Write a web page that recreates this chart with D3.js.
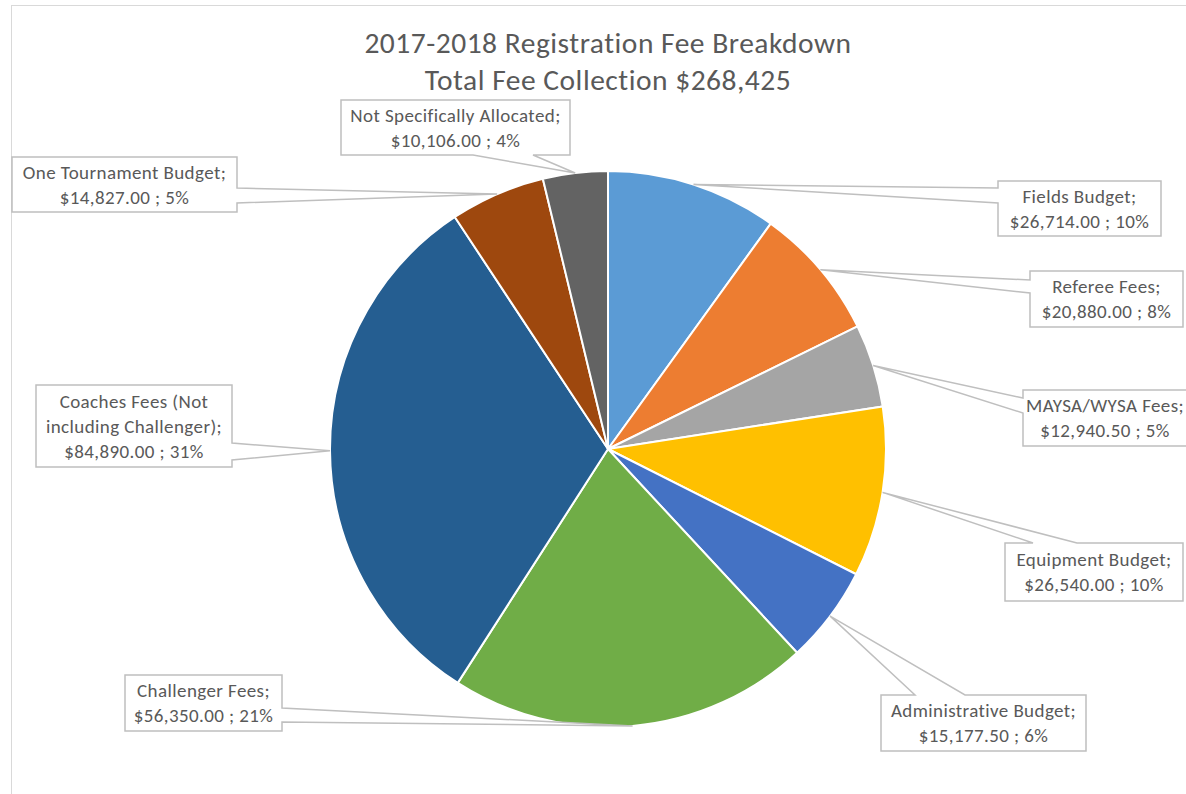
<!DOCTYPE html>
<html>
<head>
<meta charset="utf-8">
<script src="https://cdn.jsdelivr.net/npm/d3@7"></script>
<style>
  html, body { margin: 0; padding: 0; background: #fff; overflow: hidden; }
  svg { display: block; font-family: Carlito, Calibri, Lato, "Open Sans", sans-serif; }
</style>
</head>
<body>
<svg id="chart" width="1186" height="794"></svg>
<script>
// ---- data ----
const titleLines = ["2017-2018 Registration Fee Breakdown", "Total Fee Collection $268,425"];
const categories = [
  "Fields Budget", "Referee Fees", "MAYSA/WYSA Fees", "Equipment Budget",
  "Administrative Budget", "Challenger Fees", "Coaches Fees (Not including Challenger)",
  "One Tournament Budget", "Not Specifically Allocated"
];
const values = [26714.00, 20880.00, 12940.50, 26540.00, 15177.50, 56350.00, 84890.00, 14827.00, 10106.00];
const percentLabels = [10, 8, 5, 10, 6, 21, 31, 5, 4];
const nameLines = [
  ["Fields Budget;"], ["Referee Fees;"], ["MAYSA/WYSA Fees;"], ["Equipment Budget;"],
  ["Administrative Budget;"], ["Challenger Fees;"], ["Coaches Fees (Not", "including Challenger);"],
  ["One Tournament Budget;"], ["Not Specifically Allocated;"]
];
const colors = ["#5b9bd5", "#ed7d31", "#a5a5a5", "#ffc000", "#4472c4", "#70ad47", "#255e91", "#9e480e", "#636363"];

// ---- layout (callout boxes) ----
const calloutLayout = [
  { x: 998,  y: 181, w: 163, h: 55, side: "left",   base: [188, 203] },
  { x: 1030, y: 271, w: 153, h: 56, side: "left",   base: [280, 293] },
  { x: 1023, y: 390, w: 164, h: 56, side: "left",   base: [398, 413] },
  { x: 1005, y: 543, w: 178, h: 58, side: "top",    base: [1033, 1077] },
  { x: 881,  y: 695, w: 205, h: 56, side: "top",    base: [915, 965] },
  { x: 125,  y: 675, w: 157, h: 56, side: "right",  base: [708, 722] },
  { x: 36,   y: 385, w: 196, h: 82, side: "right",  base: [443, 460] },
  { x: 12,   y: 157, w: 225, h: 55, side: "right",  base: [188, 203] },
  { x: 341,  y: 100, w: 229, h: 55, side: "bottom", base: [473, 533] }
];

const W = 1186, H = 794;
const cx = 608, cy = 449, R = 278;
const textColor = "#595959";

const svg = d3.select("#chart");

// outer chart frame
svg.append("rect")
  .attr("x", 11.5).attr("y", 5.5).attr("width", 1300).attr("height", 900)
  .attr("fill", "#fff").attr("stroke", "#d9d9d9").attr("stroke-width", 1);

// title
const title = svg.append("text")
  .attr("text-anchor", "middle")
  .attr("fill", textColor)
  .style("font-size", "29.5px")
  .style("letter-spacing", "0.5px");
titleLines.forEach((t, i) => {
  title.append("tspan").attr("x", cx).attr("y", 53 + i * 37).text(t);
});

// pie
const pie = d3.pie().sort(null).value(d => d.value);
const data = categories.map((c, i) => ({ name: c, value: values[i], pct: percentLabels[i], lines: nameLines[i], color: colors[i], layout: calloutLayout[i] }));
const arcs = pie(data);
const arc = d3.arc().innerRadius(0).outerRadius(R);
const edgeArc = d3.arc().innerRadius(R).outerRadius(R);

const g = svg.append("g").attr("transform", `translate(${cx},${cy})`);
g.selectAll("path.slice")
  .data(arcs)
  .join("path")
  .attr("class", "slice")
  .attr("d", arc)
  .attr("fill", d => d.data.color)
  .attr("stroke", "#fff")
  .attr("stroke-width", 2)
  .attr("stroke-linejoin", "round");

// callouts
const fmt = d3.format("$,.2f");
function calloutPath(L, tip) {
  const { x, y, w, h, side, base } = L;
  const [a, b] = base;
  const pts = [];
  pts.push([x, y]);
  if (side === "top") { pts.push([a, y], tip, [b, y]); }
  pts.push([x + w, y]);
  if (side === "right") { pts.push([x + w, a], tip, [x + w, b]); }
  pts.push([x + w, y + h]);
  if (side === "bottom") { pts.push([b, y + h], tip, [a, y + h]); }
  pts.push([x, y + h]);
  if (side === "left") { pts.push([x, b], tip, [x, a]); }
  return "M" + pts.map(p => p[0] + "," + p[1]).join("L") + "Z";
}

const cg = svg.append("g");
arcs.forEach(d => {
  const L = d.data.layout;
  const c = edgeArc.centroid(d);
  const tip = [cx + c[0], cy + c[1]];
  cg.append("path")
    .attr("d", calloutPath(L, tip))
    .attr("fill", "#fff")
    .attr("stroke", "#bfbfbf")
    .attr("stroke-width", 1.5)
    .attr("stroke-linejoin", "miter");
  const lines = d.data.lines.concat([fmt(d.data.value) + " ; " + d.data.pct + "%"]);
  const lh = 25;
  const midX = L.x + L.w / 2;
  const firstY = L.y + L.h / 2 - (lines.length - 1) * lh / 2 + 6.5;
  const t = cg.append("text")
    .attr("text-anchor", "middle")
    .attr("fill", textColor)
    .style("font-size", "19px")
    .style("letter-spacing", "0.4px");
  lines.forEach((ln, i) => {
    t.append("tspan").attr("x", midX).attr("y", firstY + i * lh).text(ln);
  });
});
</script>
</body>
</html>
